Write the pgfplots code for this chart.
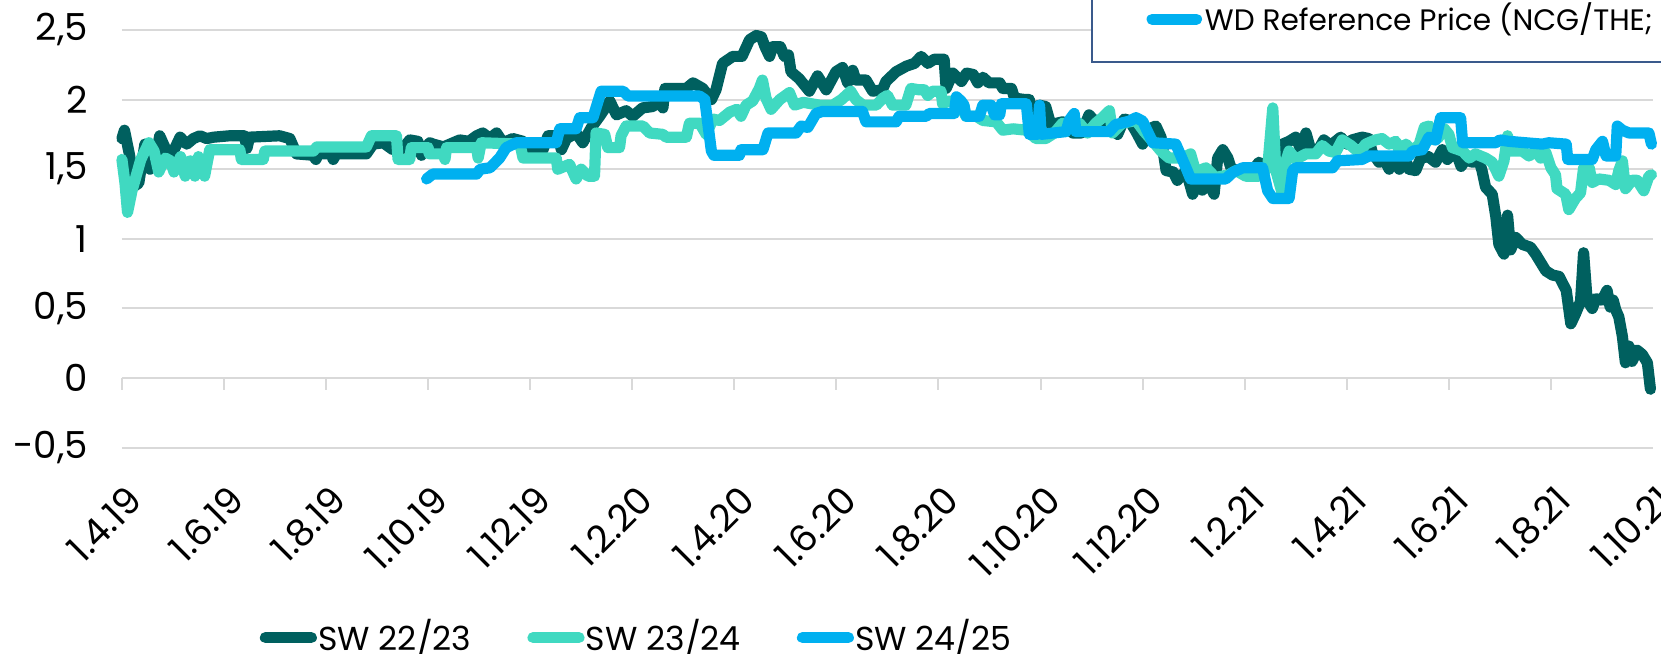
\documentclass[border=0pt]{standalone}
\usepackage{pgfplots}
\pgfplotsset{compat=1.18}
\usepackage{fontspec}
\setmainfont{Poppins}
\definecolor{swA}{HTML}{00605F}
\definecolor{swB}{HTML}{40D9C1}
\definecolor{swC}{HTML}{00B0F0}
\definecolor{gridgray}{HTML}{D9D9D9}
\definecolor{boxblue}{HTML}{3A5A8C}
\newcommand{\lblfont}{\fontsize{9.3}{11}\selectfont}
\newcommand{\legfont}{\fontsize{8.3}{10}\selectfont}

\begin{document}
\begin{tikzpicture}
\begin{axis}[
    at={(0,0)}, anchor=south west,
    scale only axis,
    width=383pt, height=112pt,
    xmin=0, xmax=30,
    ymin=-0.5, ymax=2.715,
    axis line style={draw=none},
    xtick={0,2,...,30},
    xticklabels={1.4.19,1.6.19,1.8.19,1.10.19,1.12.19,1.2.20,1.4.20,1.6.20,1.8.20,1.10.20,1.12.20,1.2.21,1.4.21,1.6.21,1.8.21,1.10.21},
    ytick={-0.5,0,...,2.5},
    yticklabels={{-0,5},{0},{0,5},{1},{1,5},{2},{2,5}},
    major tick length=0pt,
    ymajorgrids,
    grid style={gridgray, line width=0.5pt},
    tick label style={font=\lblfont, black},
    x tick label style={xshift=0.75pt, yshift=-4pt, rotate=45, anchor=north east},
    y tick label style={xshift=-5pt},
    clip=false,
    legend columns=3,
    legend style={at={(0.0817,-0.424)}, anchor=west, draw=none, fill=none,
        font=\legfont, nodes={inner sep=0.5pt},
        /tikz/every odd column/.append style={column sep=-0.2pt},
        /tikz/every even column/.append style={column sep=13.5pt}},
    legend image code/.code={\draw[#1, line width=2.8pt, line cap=round] (1.4pt,0pt) -- (12.9pt,0pt);},
    every axis plot/.append style={line width=2.8pt, line join=round, line cap=round},
]
\pgfplotsinvokeforeach{0,2,...,30}{\draw[gridgray, line width=0.5pt] (axis cs:#1,0) -- ++(0pt,-3pt);}

% SW 22/23
\addplot[swA] coordinates {
(0,1.72) (0.05,1.78) (0.15,1.60) (0.25,1.38) (0.33,1.40) (0.45,1.68) (0.55,1.50) (0.65,1.55) (0.74,1.74) (0.85,1.65) (0.94,1.58) (1.05,1.66) (1.14,1.73) (1.27,1.68) (1.4,1.72) (1.53,1.74) (1.66,1.72) (1.8,1.73) (2.11,1.74) (2.4,1.74) (2.45,1.65) (2.5,1.73) (3.09,1.74) (3.29,1.72) (3.42,1.61) (3.75,1.60) (3.8,1.57) (3.85,1.61) (4.1,1.61) (4.14,1.57) (4.2,1.61) (4.79,1.61) (4.92,1.68) (5.12,1.69) (5.31,1.64) (5.51,1.65) (5.64,1.71) (5.8,1.70) (5.87,1.60) (5.93,1.64) (6.03,1.69)
(6.1,1.68) (6.3,1.66) (6.49,1.69) (6.62,1.71) (6.8,1.70) (6.95,1.74) (7.07,1.76) (7.21,1.72) (7.34,1.76) (7.47,1.69) (7.66,1.72) (7.86,1.70) (7.99,1.64) (8.25,1.64) (8.35,1.74) (8.54,1.74) (8.61,1.64) (8.71,1.72) (8.9,1.76) (9.03,1.69) (9.2,1.80) (9.36,1.88) (9.56,1.99) (9.69,1.89) (9.88,1.92) (10.01,1.88) (10.2,1.94) (10.4,1.95) (10.53,1.99) (10.6,1.94) (10.64,2.08) (11.06,2.08) (11.19,2.12) (11.38,2.08) (11.55,2.0) (11.64,2.07) (11.77,2.26) (11.97,2.31) (12.15,2.31)
(12.3,2.43) (12.43,2.46) (12.53,2.45) (12.6,2.38) (12.69,2.31) (12.75,2.38) (12.9,2.38) (12.98,2.31) (13.06,2.32) (13.11,2.2) (13.27,2.15) (13.47,2.06) (13.63,2.17) (13.8,2.07) (13.99,2.2) (14.12,2.23) (14.22,2.12) (14.32,2.21) (14.38,2.14) (14.58,2.14) (14.71,2.06) (14.9,2.07) (14.97,2.13) (15.17,2.2) (15.37,2.24) (15.53,2.26) (15.66,2.31) (15.79,2.26) (15.92,2.29) (16.11,2.29) (16.15,2.08) (16.28,2.19) (16.45,2.13) (16.55,2.19) (16.68,2.18) (16.77,2.12) (16.87,2.16) (16.99,2.12) (17.2,2.12) (17.26,2.08) (17.43,2.08) (17.49,2.01) (17.7,2.0)
(17.78,2.0) (17.88,1.77) (17.97,1.96) (18.1,1.95) (18.2,1.82) (18.43,1.84) (18.63,1.76) (18.8,1.76) (18.95,1.89) (19.08,1.84) (19.21,1.79) (19.35,1.81) (19.51,1.75) (19.64,1.86) (19.74,1.85) (19.87,1.77) (20.0,1.68) (20.13,1.79) (20.26,1.81) (20.36,1.73) (20.46,1.49) (20.6,1.48) (20.68,1.42) (20.85,1.49) (20.98,1.32) (21.07,1.40) (21.17,1.35) (21.3,1.40) (21.4,1.32) (21.47,1.58) (21.57,1.64) (21.67,1.58) (21.73,1.51) (21.9,1.48) (22.09,1.46) (22.28,1.55) (22.41,1.51) (22.55,1.52) (22.74,1.68) (22.87,1.70) (23.0,1.73) (23.1,1.64) (23.2,1.76) (23.3,1.63) (23.43,1.63) (23.55,1.71) (23.69,1.67) (23.78,1.70) (23.88,1.73) (24.0,1.68)
(24.1,1.71) (24.3,1.73) (24.43,1.72) (24.5,1.62) (24.63,1.55) (24.75,1.56) (24.83,1.50) (24.9,1.57) (25.03,1.50) (25.16,1.56) (25.22,1.50) (25.35,1.49) (25.45,1.58) (25.6,1.59) (25.74,1.55) (25.87,1.64) (25.97,1.57) (26.13,1.63) (26.24,1.52) (26.33,1.57) (26.46,1.55) (26.59,1.56) (26.65,1.49) (26.72,1.37) (26.85,1.32) (26.92,1.16) (26.98,0.96) (27.08,0.89) (27.15,1.17) (27.21,0.92) (27.31,1.01) (27.44,0.96) (27.6,0.94) (27.7,0.89) (27.9,0.77) (28.03,0.74) (28.16,0.73) (28.3,0.63) (28.39,0.39) (28.48,0.46) (28.58,0.55) (28.64,0.90) (28.71,0.56) (28.81,0.50) (28.88,0.57) (29.0,0.56) (29.1,0.63) (29.16,0.51) (29.22,0.56) (29.27,0.49) (29.33,0.44) (29.4,0.30) (29.46,0.11) (29.53,0.23) (29.59,0.12) (29.69,0.20) (29.79,0.17) (29.89,0.11) (29.95,-0.08)
};
\addlegendentry{SW 22/23}

% SW 23/24
\addplot[swB] coordinates {
(0,1.57) (0.06,1.40) (0.11,1.19) (0.2,1.35) (0.27,1.44) (0.37,1.57) (0.53,1.69) (0.63,1.63) (0.72,1.48) (0.85,1.58) (0.95,1.56) (1.02,1.48) (1.15,1.59) (1.24,1.45) (1.34,1.56) (1.43,1.45) (1.5,1.59) (1.62,1.45) (1.72,1.64) (2.31,1.64) (2.34,1.57) (2.77,1.57) (2.8,1.63) (3.75,1.63) (3.82,1.66) (4.79,1.66) (4.89,1.74) (5.38,1.74) (5.41,1.57) (5.64,1.57) (5.67,1.655)
(6.0,1.655) (6.02,1.61) (6.3,1.61) (6.33,1.57) (6.36,1.655) (6.95,1.655) (6.98,1.58) (7.04,1.69) (7.8,1.68) (7.86,1.58) (8.51,1.58) (8.54,1.50) (8.77,1.535) (8.9,1.43) (9.0,1.50) (9.13,1.45) (9.26,1.45) (9.29,1.76) (9.46,1.75) (9.52,1.655) (9.75,1.655) (9.78,1.74) (9.88,1.81) (10.21,1.81) (10.34,1.76) (10.6,1.75) (10.66,1.73) (11.06,1.73) (11.12,1.83) (11.32,1.83) (11.45,1.75) (11.58,1.86) (11.71,1.85)
(11.91,1.91) (12.05,1.93) (12.13,1.88) (12.23,1.96) (12.36,1.99) (12.49,2.08) (12.55,2.14) (12.62,2.01) (12.72,1.93) (12.89,2.0) (13.08,2.05) (13.18,1.96) (13.35,1.98) (13.67,1.96) (13.93,1.96) (14.1,2.0) (14.28,2.06) (14.38,2.0) (14.52,1.96) (14.78,1.96) (14.91,2.01) (15.0,2.03) (15.1,1.96) (15.36,1.96) (15.46,2.08) (15.62,2.07) (15.72,2.07) (15.79,2.03) (15.88,2.06) (16.05,2.06) (16.08,1.97) (16.21,1.99) (16.41,1.97) (16.54,1.88) (16.74,1.88) (16.87,1.85) (17.13,1.84) (17.26,1.78) (17.46,1.79) (17.72,1.78) (17.91,1.72)
(18.1,1.72) (18.27,1.76) (18.43,1.83) (18.63,1.80) (18.76,1.83) (18.92,1.76) (19.08,1.83) (19.21,1.87) (19.35,1.92) (19.41,1.76) (19.6,1.83) (19.87,1.85) (20.03,1.77) (20.2,1.70) (20.36,1.63) (20.52,1.58) (20.78,1.58) (20.94,1.61) (21.04,1.48) (21.24,1.51) (21.43,1.44) (21.69,1.46) (21.83,1.49) (22.02,1.45) (22.28,1.45) (22.45,1.51) (22.55,1.94) (22.61,1.49) (22.74,1.32) (22.81,1.56) (22.87,1.63) (23.0,1.57) (23.2,1.61) (23.39,1.61) (23.52,1.67) (23.65,1.63)
(23.78,1.62) (23.91,1.71) (24.08,1.67) (24.24,1.62) (24.37,1.68) (24.56,1.71) (24.69,1.72) (24.83,1.68) (24.96,1.70) (25.03,1.63) (25.16,1.68) (25.29,1.63) (25.42,1.68) (25.52,1.80) (25.62,1.81) (25.68,1.71) (25.78,1.72) (25.91,1.79) (26.0,1.75) (26.07,1.655) (26.27,1.63) (26.4,1.58) (26.52,1.61) (26.72,1.58) (26.85,1.55) (26.98,1.45) (27.08,1.56) (27.15,1.74) (27.21,1.63) (27.44,1.63) (27.57,1.595) (27.7,1.63) (27.8,1.58) (27.9,1.62) (28.0,1.51) (28.09,1.46) (28.12,1.36) (28.29,1.32) (28.35,1.21) (28.48,1.29) (28.58,1.33) (28.64,1.51) (28.75,1.51) (28.81,1.405) (28.94,1.43) (29.14,1.42) (29.27,1.39) (29.33,1.49) (29.4,1.56) (29.46,1.36) (29.59,1.42) (29.69,1.42) (29.82,1.345) (29.92,1.45) (29.97,1.46)
};
\addlegendentry{SW 23/24}

% SW 24/25
\addplot[swC] coordinates {
(5.97,1.43) (6.09,1.465) (6.95,1.465) (7.02,1.50) (7.21,1.51) (7.4,1.58) (7.53,1.655) (7.73,1.69) (8.51,1.69) (8.58,1.79) (8.9,1.79) (8.97,1.87) (9.23,1.87) (9.39,2.06) (9.82,2.06) (9.92,2.025) (11.32,2.025) (11.42,2.0) (11.55,1.63) (11.6,1.60) (12.1,1.60) (12.13,1.64) (12.56,1.64) (12.66,1.76) (13.21,1.76) (13.31,1.81) (13.44,1.80) (13.6,1.90) (13.73,1.915) (14.51,1.915) (14.58,1.84) (15.17,1.84) (15.23,1.88) (15.76,1.88) (15.82,1.90) (16.31,1.90)
(16.35,2.02) (16.44,1.99) (16.5,1.96) (16.54,1.88) (16.8,1.88) (16.87,1.96) (17.03,1.96) (17.1,1.89) (17.2,1.89) (17.23,1.97) (17.72,1.97) (17.78,1.75) (17.94,1.75) (17.98,1.96) (18.01,1.75) (18.5,1.77) (18.56,1.85) (18.66,1.9) (18.69,1.77) (19.35,1.77) (19.47,1.82) (19.74,1.845) (19.87,1.87) (20.0,1.845) (20.2,1.69) (20.65,1.68) (20.85,1.51) (20.94,1.43) (21.63,1.43) (21.76,1.476) (21.96,1.51) (22.35,1.51) (22.45,1.345) (22.55,1.29) (22.87,1.29) (22.94,1.49) (23.0,1.51) (23.72,1.51) (23.82,1.56)
(24.3,1.57) (24.43,1.595) (25.22,1.595) (25.29,1.63) (25.48,1.64) (25.61,1.73) (25.74,1.71) (25.84,1.87) (26.23,1.87) (26.27,1.69) (26.92,1.69) (27.0,1.71) (27.18,1.70) (27.83,1.68) (27.96,1.69) (28.3,1.68) (28.33,1.57) (28.81,1.57) (28.88,1.64) (29.01,1.70) (29.08,1.595) (29.27,1.595) (29.3,1.81) (29.4,1.78) (29.53,1.76) (29.92,1.76) (29.97,1.68)
};
\addlegendentry{SW 24/25}
\end{axis}

% legend box of the WD reference price, cut by the top and right edges
\draw[boxblue, line width=0.5pt, fill=white] (242.75pt,96.55pt) rectangle (470pt,135pt);
\draw[swC, line width=2.8pt, line cap=round] (257.7pt,107.2pt) -- (268.8pt,107.2pt);
\node[anchor=west, inner sep=0pt, font=\fontsize{7.4}{9}\selectfont] at (270.7pt,107.2pt) {WD Reference Price (NCG/THE; EUR/MWh)};

\pgfresetboundingbox
\useasboundingbox (-30.5pt,-51.5pt) rectangle (385pt,112pt);
\end{tikzpicture}
\end{document}
